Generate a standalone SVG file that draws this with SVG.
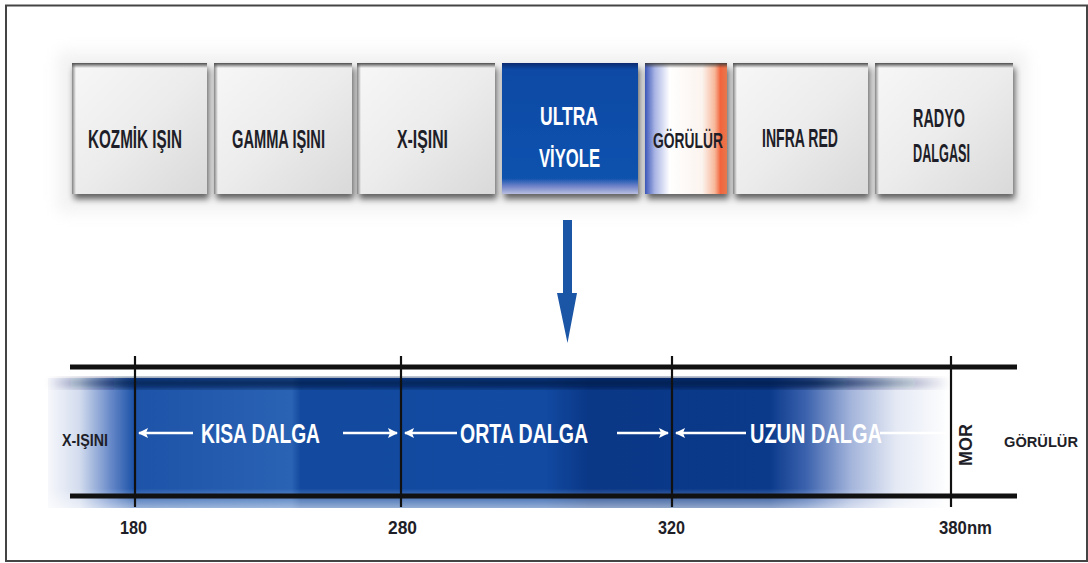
<svg xmlns="http://www.w3.org/2000/svg" width="1088" height="563" viewBox="0 0 1088 563">
<defs>
<style>
.bt{font-family:"Liberation Sans",Arial,sans-serif;font-weight:bold;font-size:25px;fill:#1e1e28;text-anchor:start}
.wt{font-family:"Liberation Sans",Arial,sans-serif;font-weight:bold;font-size:27px;fill:#ffffff}
.dk{font-family:"Liberation Sans",Arial,sans-serif;font-weight:bold;fill:#1e1e28}
.vl{stroke:#111;stroke-width:2.2}
.hl{stroke:#111;stroke-width:5}
.wa{stroke:#fff;stroke-width:2.5;fill:none}
</style>
<filter id="sh" x="-10%" y="-10%" width="125%" height="130%">
<feGaussianBlur in="SourceAlpha" stdDeviation="3"/>
<feOffset dx="2" dy="5" result="b"/>
<feComponentTransfer><feFuncA type="linear" slope="0.6"/></feComponentTransfer>
<feMerge><feMergeNode/><feMergeNode in="SourceGraphic"/></feMerge>
</filter>
<filter id="blur8"><feGaussianBlur stdDeviation="8"/></filter>
<filter id="blur3" x="-5%" y="-20%" width="110%" height="140%"><feGaussianBlur stdDeviation="3"/></filter>
<linearGradient id="gray" x1="0" y1="0" x2="1" y2="1">
<stop offset="0" stop-color="#f7f7f7"/>
<stop offset="0.5" stop-color="#ececec"/>
<stop offset="1" stop-color="#d9d9d9"/>
</linearGradient>
<linearGradient id="topedge" x1="0" y1="0" x2="0" y2="1">
<stop offset="0" stop-color="#3a3a3a" stop-opacity="0.9"/>
<stop offset="1" stop-color="#3a3a3a" stop-opacity="0"/>
</linearGradient>
<linearGradient id="leftedge" x1="0" y1="0" x2="1" y2="0">
<stop offset="0" stop-color="#555" stop-opacity="0.7"/>
<stop offset="1" stop-color="#555" stop-opacity="0"/>
</linearGradient>
<linearGradient id="uv" x1="0" y1="0" x2="0" y2="1">
<stop offset="0" stop-color="#0a2a70"/>
<stop offset="0.05" stop-color="#0d4aa5"/>
<stop offset="0.88" stop-color="#0f52ae"/>
<stop offset="0.94" stop-color="#6f82c8"/>
<stop offset="1" stop-color="#b9bfe0"/>
</linearGradient>
<linearGradient id="vis" x1="0" y1="0" x2="1" y2="0">
<stop offset="0" stop-color="#3c56b8"/>
<stop offset="0.12" stop-color="#a8b4e4"/>
<stop offset="0.3" stop-color="#ffffff"/>
<stop offset="0.7" stop-color="#fbf3ee"/>
<stop offset="0.85" stop-color="#f7b89a"/>
<stop offset="0.92" stop-color="#f2643c"/>
<stop offset="1" stop-color="#e8784e"/>
</linearGradient>
<linearGradient id="band" gradientUnits="userSpaceOnUse" x1="48" y1="0" x2="950" y2="0">
<stop offset="0" stop-color="#f6f7fb"/>
<stop offset="0.035" stop-color="#d3dcee"/>
<stop offset="0.07" stop-color="#6688c8"/>
<stop offset="0.095" stop-color="#1d53a8"/>
<stop offset="0.27" stop-color="#2a62b4"/>
<stop offset="0.28" stop-color="#134a9f"/>
<stop offset="0.55" stop-color="#124aa2"/>
<stop offset="0.6" stop-color="#0a3786"/>
<stop offset="0.8" stop-color="#0b3a8b"/>
<stop offset="0.84" stop-color="#3b62ad"/>
<stop offset="0.89" stop-color="#a3b4db"/>
<stop offset="0.94" stop-color="#e4e9f4"/>
<stop offset="1" stop-color="#ffffff"/>
</linearGradient>
<linearGradient id="topstrip" gradientUnits="userSpaceOnUse" x1="48" y1="0" x2="950" y2="0">
<stop offset="0" stop-color="#041848" stop-opacity="0"/>
<stop offset="0.09" stop-color="#041848" stop-opacity="0.8"/>
<stop offset="0.85" stop-color="#041848" stop-opacity="0.85"/>
<stop offset="1" stop-color="#041848" stop-opacity="0"/>
</linearGradient>
<linearGradient id="bandv" x1="0" y1="0" x2="0" y2="1">
<stop offset="0.85" stop-color="#ffffff" stop-opacity="0"/>
<stop offset="1" stop-color="#ffffff" stop-opacity="0.55"/>
</linearGradient>
<marker id="ah" viewBox="0 0 10 10" refX="9" refY="5" markerWidth="4" markerHeight="4" orient="auto-start-reverse" markerUnits="strokeWidth">
<path d="M0,0 L10,5 L0,10 L2,5 z" fill="#fff"/>
</marker>
</defs>

<rect x="0" y="0" width="1088" height="563" fill="#ffffff"/>
<rect x="6" y="5.5" width="1081" height="555.5" fill="none" stroke="#444" stroke-width="2"/>

<rect x="58" y="52" width="968" height="160" fill="#d8d8d8" opacity="0.35" filter="url(#blur8)"/>

<g id="kozmik">
<rect x="72" y="63" width="135" height="131" fill="url(#gray)" filter="url(#sh)"/>
<rect x="72" y="63" width="135" height="5" fill="url(#topedge)"/>
<rect x="72" y="63" width="4" height="131" fill="url(#leftedge)"/>
<text class="bt" x="88" y="148" textLength="94" lengthAdjust="spacingAndGlyphs">KOZMİK IŞIN</text>
</g>
<g id="gamma">
<rect x="214" y="63" width="138" height="131" fill="url(#gray)" filter="url(#sh)"/>
<rect x="214" y="63" width="138" height="5" fill="url(#topedge)"/>
<rect x="214" y="63" width="4" height="131" fill="url(#leftedge)"/>
<text class="bt" x="232" y="148" textLength="93" lengthAdjust="spacingAndGlyphs">GAMMA IŞINI</text>
</g>
<g id="xisini">
<rect x="357" y="63" width="138" height="131" fill="url(#gray)" filter="url(#sh)"/>
<rect x="357" y="63" width="138" height="5" fill="url(#topedge)"/>
<rect x="357" y="63" width="4" height="131" fill="url(#leftedge)"/>
<text class="bt" x="397" y="148" textLength="51" lengthAdjust="spacingAndGlyphs">X-IŞINI</text>
</g>
<g id="ultraviyole">
<rect x="502" y="63" width="136" height="131" fill="url(#uv)" filter="url(#sh)"/>
<text class="bt" x="540" y="125" textLength="58" lengthAdjust="spacingAndGlyphs" style="fill:#fff">ULTRA</text>
<text class="bt" x="539" y="167" textLength="61" lengthAdjust="spacingAndGlyphs" style="fill:#fff">VİYOLE</text>
</g>
<g id="gorulur-top">
<rect x="645" y="63" width="82" height="131" fill="url(#vis)" filter="url(#sh)"/>
<rect x="645" y="63" width="82" height="5" fill="url(#topedge)"/>
<text class="bt" x="653" y="148" textLength="70" lengthAdjust="spacingAndGlyphs" style="font-size:22px">GÖRÜLÜR</text>
</g>
<g id="infrared">
<rect x="733" y="63" width="135" height="131" fill="url(#gray)" filter="url(#sh)"/>
<rect x="733" y="63" width="135" height="5" fill="url(#topedge)"/>
<rect x="733" y="63" width="4" height="131" fill="url(#leftedge)"/>
<text class="bt" x="762" y="147" textLength="76" lengthAdjust="spacingAndGlyphs">INFRA RED</text>
</g>
<g id="radyo">
<rect x="875" y="63" width="138" height="131" fill="url(#gray)" filter="url(#sh)"/>
<rect x="875" y="63" width="138" height="5" fill="url(#topedge)"/>
<rect x="875" y="63" width="4" height="131" fill="url(#leftedge)"/>
<text class="bt" x="913" y="127" textLength="52" lengthAdjust="spacingAndGlyphs">RADYO</text>
<text class="bt" x="913" y="162" textLength="57" lengthAdjust="spacingAndGlyphs">DALGASI</text>
</g>

<g id="connectors">
<path d="M563,220 H572 V293 H577 L567.5,343 L557,293 H563 Z" fill="#1a55a6"/>
</g>

<g id="uv-band">
<rect x="48" y="378" width="905" height="130" fill="url(#band)"/>
<rect x="48" y="378" width="905" height="10" fill="url(#topstrip)" filter="url(#blur3)"/>
<rect x="48" y="378" width="905" height="130" fill="url(#bandv)"/>
<line class="hl" x1="70" y1="367" x2="1017" y2="367"/>
<line class="hl" x1="70" y1="496" x2="1017" y2="496"/>
<line class="vl" x1="135" y1="356" x2="135" y2="507"/>
<line class="vl" x1="401" y1="356" x2="401" y2="507"/>
<line class="vl" x1="672" y1="356" x2="672" y2="507"/>
<line class="vl" x1="951" y1="356" x2="951" y2="507"/>

<line class="wa" x1="193" y1="433" x2="139" y2="433" marker-end="url(#ah)"/>
<line class="wa" x1="343" y1="433" x2="397" y2="433" marker-end="url(#ah)"/>
<line class="wa" x1="457" y1="433" x2="405" y2="433" marker-end="url(#ah)"/>
<line class="wa" x1="617" y1="433" x2="668" y2="433" marker-end="url(#ah)"/>
<line class="wa" x1="746" y1="433" x2="676" y2="433" marker-end="url(#ah)"/>
<line class="wa" x1="880" y1="433" x2="946" y2="433"/>

<text class="wt" x="201" y="443" textLength="119" lengthAdjust="spacingAndGlyphs">KISA DALGA</text>
<text class="wt" x="460" y="443" textLength="128" lengthAdjust="spacingAndGlyphs">ORTA DALGA</text>
<text class="wt" x="750" y="443" textLength="132" lengthAdjust="spacingAndGlyphs">UZUN DALGA</text>

<text class="dk" x="62" y="446" font-size="17" textLength="46" lengthAdjust="spacingAndGlyphs">X-IŞINI</text>
<text class="dk" x="0" y="0" font-size="18" text-anchor="middle" transform="translate(972,445) rotate(-90)">MOR</text>
<text class="dk" x="1004" y="447" font-size="15" textLength="74" lengthAdjust="spacingAndGlyphs">GÖRÜLÜR</text>

<text class="dk" x="120" y="534" font-size="18" textLength="27" lengthAdjust="spacingAndGlyphs">180</text>
<text class="dk" x="388" y="534" font-size="18" textLength="29" lengthAdjust="spacingAndGlyphs">280</text>
<text class="dk" x="658" y="534" font-size="18" textLength="27" lengthAdjust="spacingAndGlyphs">320</text>
<text class="dk" x="939" y="534" font-size="18" textLength="53" lengthAdjust="spacingAndGlyphs">380nm</text>
</g>
</svg>
